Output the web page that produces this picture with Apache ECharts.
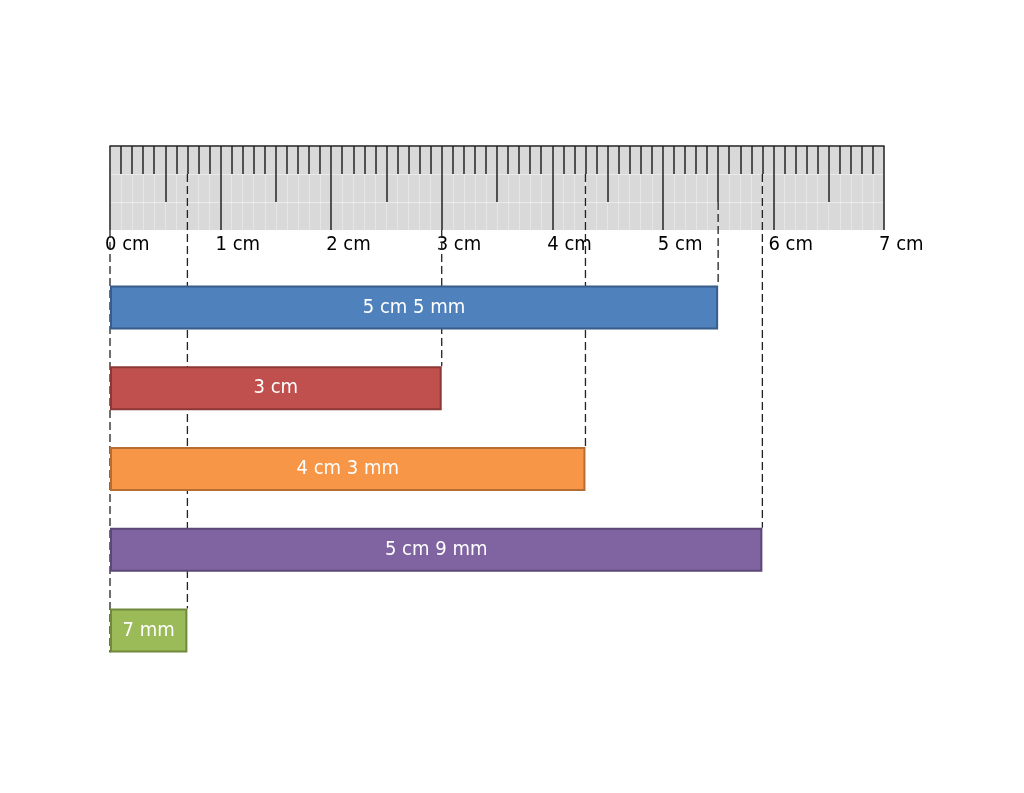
<!DOCTYPE html>
<html>
<head>
<meta charset="utf-8">
<script src="https://cdn.jsdelivr.net/npm/echarts@6/dist/echarts.min.js"></script>
<style>
  html, body { margin: 0; padding: 0; background: #fff; }
  #main { width: 1024px; height: 793px; }
</style>
</head>
<body>
<div id="main"></div>
<script>
// lengths measured with the ruler, in cm
const barNames = ['5 cm 5 mm', '3 cm', '4 cm 3 mm', '5 cm 9 mm', '7 mm'];
const barValues = [5.5, 3, 4.3, 5.9, 0.7];
// ruler scale
const rulerMin = 0;
const rulerMax = 7;

const fills = ['#4f81bd', '#c0504d', '#f79646', '#8064a2', '#9bbb59'];
const borders = ['#385d8a', '#8c3836', '#b66d31', '#5c4776', '#71893f'];

const FONT = 'DejaVu Sans Condensed';
const LEFT = 110, RIGHT = 140;
const RULER_TOP = 146, RULER_H = 84;
const BAR_W = 44;

// length of a ruler tick: full for cm, 2/3 for half cm, 1/3 for mm
function tickLen(v) {
  const mm = Math.round(v * 10);
  if (mm % 10 === 0) return RULER_H;
  if (mm % 5 === 0) return RULER_H * 2 / 3;
  return RULER_H / 3;
}

let chart = echarts.init(document.getElementById('main'));

let guideData = barValues.map(function (v, i) { return [v, i]; });
guideData.push([0, barValues.length - 1]);

const tickStyle = { color: '#222', width: 1.5 };

chart.setOption({
  backgroundColor: '#fff',
  animation: false,
  grid: [
    { left: LEFT, right: RIGHT, top: RULER_TOP, height: RULER_H, show: true, backgroundColor: '#d9d9d9', borderWidth: 0 },
    { left: LEFT, right: RIGHT, top: RULER_TOP, height: RULER_H },
    { left: LEFT, right: RIGHT, top: 267, height: 404 },
    // labels sit a few px left of their tick
    { left: LEFT - 5, right: RIGHT + 5, top: RULER_TOP, height: RULER_H }
  ],
  xAxis: [
    // cm + mm ticks hanging from the top edge
    {
      gridIndex: 0, type: 'value', position: 'top', min: rulerMin, max: rulerMax, interval: 1,
      axisLine: { show: true, onZero: false, lineStyle: { color: '#222', width: 1.5 } },
      axisTick: { show: true, inside: true, length: RULER_H, lineStyle: tickStyle },
      minorTick: { show: true, splitNumber: 10, length: RULER_H / 3, lineStyle: tickStyle },
      axisLabel: { show: false },
      splitLine: { show: true, lineStyle: { color: 'rgba(255,255,255,0.45)', width: 1 } },
      minorSplitLine: { show: true, lineStyle: { color: 'rgba(255,255,255,0.35)', width: 1 } }
    },
    // half cm ticks
    {
      gridIndex: 1, type: 'value', position: 'top', min: rulerMin, max: rulerMax, interval: 0.5,
      axisLine: { show: false, onZero: false },
      axisTick: { show: true, inside: true, length: RULER_H * 2 / 3, lineStyle: tickStyle },
      axisLabel: { show: false },
      splitLine: { show: false }
    },
    // bars
    {
      gridIndex: 2, type: 'value', min: rulerMin, max: rulerMax, show: false
    },
    // cm labels under the ruler
    {
      gridIndex: 3, type: 'value', position: 'bottom', min: rulerMin, max: rulerMax, interval: 1,
      axisLine: { show: false, onZero: false },
      axisTick: { show: false },
      splitLine: { show: false },
      axisLabel: {
        show: true, margin: 5, align: 'left', color: '#000',
        fontFamily: FONT, fontSize: 20,
        formatter: function (v) { return v + ' cm'; }
      }
    }
  ],
  yAxis: [
    {
      gridIndex: 0, type: 'value', min: 0, max: 3, interval: 1, inverse: true,
      axisLine: { show: false }, axisTick: { show: false }, axisLabel: { show: false },
      splitLine: { show: true, lineStyle: { color: 'rgba(255,255,255,0.45)', width: 1 } }
    },
    { gridIndex: 1, type: 'value', show: false, splitLine: { show: false } },
    {
      gridIndex: 2, type: 'category', inverse: true, data: barNames, show: false
    },
    { gridIndex: 3, type: 'value', show: false, splitLine: { show: false } }
  ],
  series: [
    {
      type: 'custom',
      xAxisIndex: 2, yAxisIndex: 2,
      clip: false,
      z: 1,
      data: guideData,
      renderItem: function (params, api) {
        const v = api.value(0);
        const i = api.value(1);
        const p = api.coord([v, i]);
        const y1 = RULER_TOP + tickLen(v);
        const y2 = v === 0 ? p[1] + BAR_W / 2 : p[1] - BAR_W / 2;
        return {
          type: 'line',
          shape: { x1: p[0], y1: y1, x2: p[0], y2: y2 },
          style: { stroke: '#222', lineWidth: 1.3, lineDash: [8, 4] }
        };
      }
    },
    {
      type: 'bar',
      xAxisIndex: 2, yAxisIndex: 2,
      z: 3,
      barWidth: BAR_W,
      data: barValues.map(function (v, i) {
        return {
          value: v,
          itemStyle: { color: fills[i], borderColor: borders[i], borderWidth: 2 }
        };
      }),
      label: {
        show: true, position: 'inside', color: '#fff',
        fontFamily: FONT, fontSize: 20,
        formatter: function (p) { return barNames[p.dataIndex]; }
      }
    }
  ]
});
</script>
</body>
</html>
